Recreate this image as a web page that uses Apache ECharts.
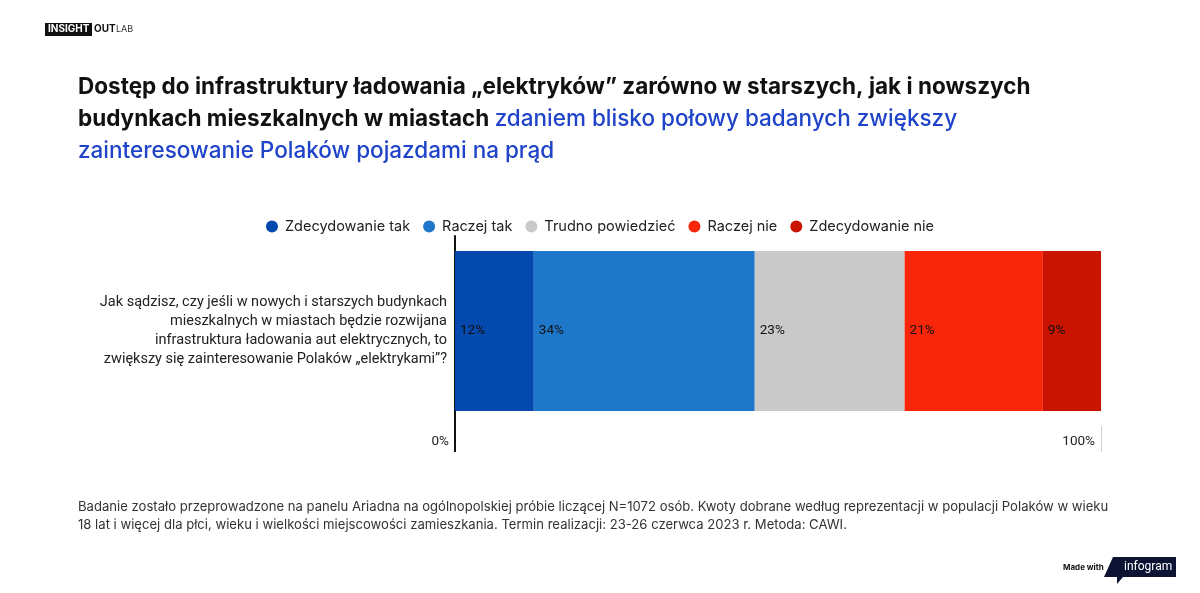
<!DOCTYPE html>
<html>
<head>
	<meta charset="utf-8">
	<title>Infrastruktura ładowania</title>
	<script src="https://cdn.jsdelivr.net/npm/echarts@6/dist/echarts.min.js"></script>
	<style>
	  html, body{ margin:0; padding:0; background:#fff; }
	  #chart{ width:1200px; height:593px; }
	</style>
</head>
<body>
<div id="chart"></div>
<script>
	// dane (procenty, etykiety zaokrąglone)
	var seriesNames = ['Zdecydowanie tak', 'Raczej tak', 'Trudno powiedzieć', 'Raczej nie', 'Zdecydowanie nie'];
	var seriesValues = [12.2, 34.2, 23.2, 21.4, 9.0];
	var seriesColors = ['#0449ae', '#1f77c9', '#c9c9c9', '#fa260a', '#c81400'];
	var categories = ['Jak sądzisz, czy jeśli w nowych i starszych budynkach\nmieszkalnych w miastach będzie rozwijana\ninfrastruktura ładowania aut elektrycznych, to\nzwiększy się zainteresowanie Polaków „elektrykami”?'];
	var axisTicks = [0, 100];

	var titleFont = 'Inter, "Open Sans", sans-serif';
	var bodyFont = 'Roboto, "Noto Sans", sans-serif';

	var series = [];
	for (var i = 0; i < seriesNames.length; i++) {
		series.push({
			name: seriesNames[i],
			type: 'bar',
			stack: 'total',
			barWidth: 160,
			itemStyle: { color: seriesColors[i] },
			label: {
				show: true,
				position: 'insideLeft',
				distance: 5,
				color: '#111',
				fontSize: 13.5,
				fontFamily: bodyFont,
				formatter: function (p) { return Math.round(p.value) + '%'; }
			},
			data: [seriesValues[i]]
		});
	}

	var option = {
		backgroundColor: '#fff',
		animation: false,
		title: [
			{
				left: 78,
				top: 71,
				padding: 0,
				text: '{b|Dostęp do infrastruktury ładowania „elektryków” zarówno w starszych, jak i nowszych}\n' +
					'{b|budynkach mieszkalnych w miastach }{c|zdaniem blisko połowy badanych zwiększy}\n' +
					'{c|zainteresowanie Polaków pojazdami na prąd}',
				textStyle: {
					rich: {
						b: { fontFamily: titleFont, fontSize: 22.5, fontWeight: 'bold', color: '#111', lineHeight: 32 },
						c: { fontFamily: titleFont, fontSize: 22.5, fontWeight: 500, color: '#1f44c9', lineHeight: 32 }
					}
				}
			},
			{
				left: 78,
				top: 498,
				padding: 0,
				text: 'Badanie zostało przeprowadzone na panelu Ariadna na ogólnopolskiej próbie liczącej N=1072 osób. Kwoty dobrane według reprezentacji w populacji Polaków w wieku\n18 lat i więcej dla płci, wieku i wielkości miejscowości zamieszkania. Termin realizacji: 23-26 czerwca 2023 r. Metoda: CAWI.',
				textStyle: { fontFamily: titleFont, fontSize: 13.1, fontWeight: 'normal', color: '#333', lineHeight: 18 }
			}
		],
		legend: {
			top: 214,
			left: 'center',
			icon: 'circle',
			itemWidth: 12,
			itemHeight: 12,
			itemGap: 13,
			textStyle: { fontFamily: titleFont, fontSize: 14.5, color: '#222', padding: [0, 0, 0, 2] },
			data: seriesNames
		},
		grid: {
			left: 455,
			right: 99,
			top: 236,
			bottom: 167
		},
		xAxis: [
			{
				type: 'value',
				min: 0,
				max: 100,
				interval: 100,
				axisLine: { show: false },
				axisTick: { show: true, customValues: [axisTicks[0]], length: 26, lineStyle: { color: '#111', width: 2 } },
				splitLine: { show: true, lineStyle: { color: '#cfcfcf', width: 1 } },
				axisLabel: {
					customValues: axisTicks,
					showMinLabel: true,
					showMaxLabel: true,
					formatter: '{value}%',
					align: 'right',
					margin: 9,
					padding: [0, 6, 0, 0],
					fontFamily: bodyFont,
					fontSize: 13.5,
					color: '#222'
				}
			},
			{
				type: 'value',
				position: 'bottom',
				min: 0,
				max: 100,
				interval: 100,
				axisLine: { show: false },
				axisTick: { show: true, customValues: [axisTicks[1]], length: 26, lineStyle: { color: '#cfcfcf', width: 1 } },
				splitLine: { show: false },
				axisLabel: { show: false }
			}
		],
		yAxis: {
			type: 'category',
			data: categories,
			axisLine: { show: true, lineStyle: { color: '#111', width: 2 } },
			axisTick: { show: false },
			axisLabel: {
				margin: 8,
				align: 'right',
				fontFamily: bodyFont,
				fontSize: 14.5,
				lineHeight: 19,
				color: '#222'
			}
		},
		graphic: [
			// logo w lewym górnym rogu
			{ type: 'rect', left: 45, top: 23, shape: { width: 47, height: 13 }, style: { fill: '#111' } },
			{ type: 'text', left: 48, top: 24, style: { text: 'INSIGHT', fill: '#fff', font: 'bold 10px ' + titleFont } },
			{ type: 'text', left: 94, top: 24, style: { text: 'OUT', fill: '#111', font: 'bold 10px ' + titleFont } },
			{ type: 'text', left: 116, top: 25, style: { text: 'LAB', fill: '#333', font: '9px ' + titleFont } },
			// "Made with infogram"
			{ type: 'text', left: 1063, top: 564, style: { text: 'Made with', fill: '#111', font: 'bold 8px ' + titleFont } },
			{
				type: 'polygon',
				shape: { points: [[1113, 557], [1176, 557], [1176, 577], [1123, 577], [1117, 584], [1117, 577], [1104, 577]] },
				style: { fill: '#0d1333' }
			},
			{ type: 'text', left: 1124, top: 561, style: { text: 'infogram', fill: '#fff', font: '12px ' + bodyFont } }
		],
		series: series
	};

	var myChart = echarts.init(document.getElementById('chart'));
	myChart.setOption(option);
</script>
</body>
</html>
